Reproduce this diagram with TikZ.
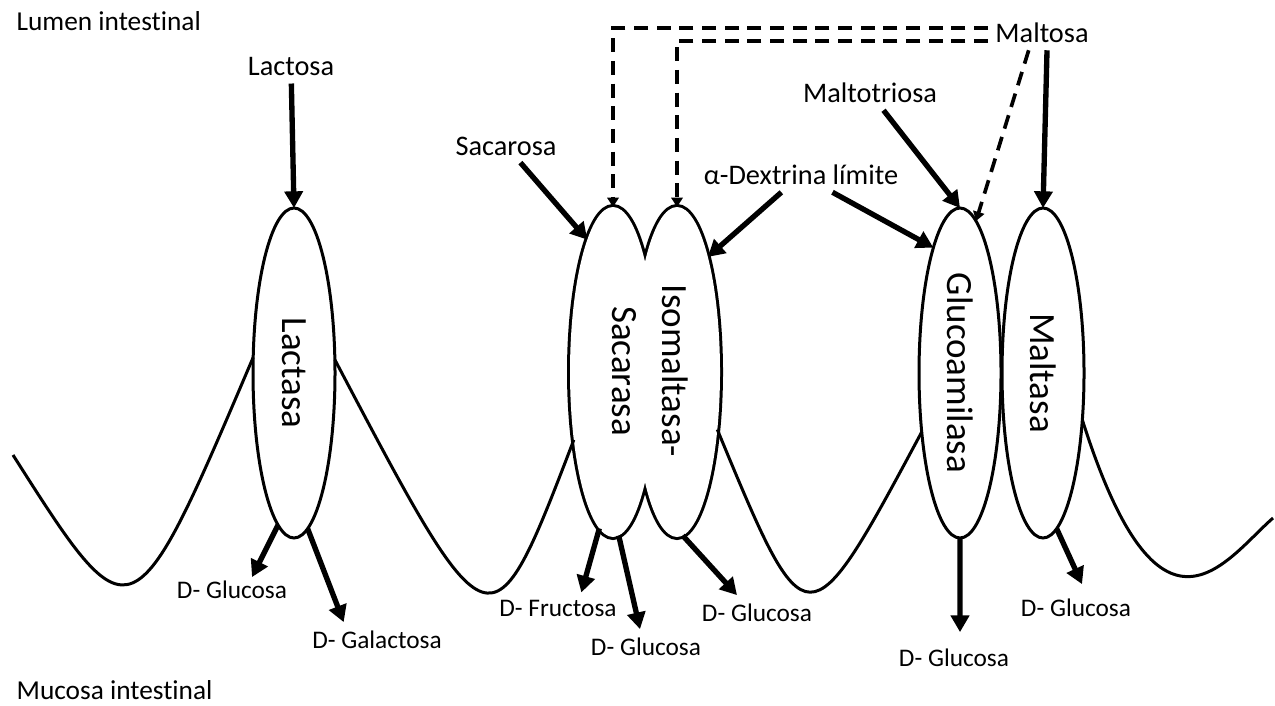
\documentclass[tikz,border=0pt]{standalone}
\usepackage{fontspec}
\setmainfont{Carlito}[Ligatures=NoCommon]
\usepackage{tikz}
\usetikzlibrary{shapes.geometric,arrows.meta}

\tikzset{
    enzima/.style={draw, ellipse, line width=0.9pt, minimum width=24.6pt, minimum height=99pt, inner sep=0pt, outer sep=0pt, font=\fontsize{11.1}{15}\selectfont},
    doble/.style={enzima, minimum width=25.8pt, line width=1.8pt},
    sustrato/.style={inner sep=2pt, font=\fontsize{8.5}{10}\selectfont},
    producto/.style={inner sep=1pt, font=\fontsize{7.6}{9}\selectfont},
    zona/.style={inner sep=0pt, anchor=west, font=\fontsize{8.2}{10}\selectfont},
    flecha/.style={line width=1.6pt, -{Triangle[length=5pt,width=5.4pt]}},
    discont/.style={line width=1.1pt, dash pattern=on 4.2pt off 2.6pt, -{Triangle[length=2.8pt,width=3.4pt]}},
    membrana/.style={line width=0.9pt}
}

\begin{document}
\begin{tikzpicture}[x=0.3pt, y=-0.3pt]
        \useasboundingbox (0,0) rectangle (1275,705);

        \node[zona] (lumen) at (16,21) {Lumen intestinal};
        \node[zona] (mucosa) at (16,690) {Mucosa intestinal};

        \node[enzima] (lactasa) at (294,373) {\rotatebox{-90}{Lactasa}};
        \node[doble] (sacarasa) at (613,372) {};
        \node[doble] (isomaltasa) at (677,372) {};
        \node[doble, draw=none, fill=white] (sacfondo) at (613,372) {};
        \node[doble, draw=none, fill=white] (isofondo) at (677,372) {};
        \node[rotate=-90, align=center, font=\fontsize{11.1}{15}\selectfont] (isosac) at (650,371) {Isomaltasa-\\Sacarasa};
        \node[enzima] (glucoamilasa) at (960,373) {\rotatebox{-90}{Glucoamilasa}};
        \node[enzima] (maltasa) at (1043,373) {\rotatebox{-90}{Maltasa}};

        \node[sustrato] (lactosa) at (291,67) {Lactosa};
        \node[sustrato] (sacarosa) at (506,146) {Sacarosa};
        \node[sustrato] (dextrina) at (801,175) {α-Dextrina límite};
        \node[sustrato] (maltotriosa) at (870,93) {Maltotriosa};
        \node[sustrato] (maltosa) at (1042,33) {Maltosa};

        \node[producto] (gluc1) at (232,590) {D- Glucosa};
        \node[producto] (galac) at (377,640) {D- Galactosa};
        \node[producto] (fruct) at (558,608) {D- Fructosa};
        \node[producto] (gluc2) at (646,647) {D- Glucosa};
        \node[producto] (gluc3) at (757,613) {D- Glucosa};
        \node[producto] (gluc4) at (954,658) {D- Glucosa};
        \node[producto] (gluc5) at (1076,608) {D- Glucosa};

        \coordinate (inicio) at (13,455);
        \coordinate (fin) at (1273,518);

        \draw[membrana] (inicio) .. controls (132,642) .. (lactasa.159);
        \draw[membrana] (lactasa.18) .. controls (491,656) .. (sacarasa.240);
        \draw[membrana] (isomaltasa.-55) .. controls (807,646) .. (glucoamilasa.237);
        \draw[membrana] (maltasa.-50) .. controls (1160,665) and (1225,560) .. (fin);

        \draw[flecha] (lactosa) -- (lactasa.north);
        \draw[flecha] (sacarosa) -- (sacarasa.101);
        \draw[flecha] (dextrina) -- (isomaltasa.75);
        \draw[flecha] (dextrina) -- (glucoamilasa.102);
        \draw[flecha] (maltotriosa) -- (glucoamilasa.north);
        \draw[flecha] ([xshift=1.5pt]maltosa.south) -- (maltasa.north);
        \draw[discont] ([xshift=-4pt]maltosa.south) -- (glucoamilasa.84);
        \draw[discont] ([yshift=1.5pt]maltosa.west) -| (sacarasa.north);
        \draw[discont] ([yshift=-2.4pt]maltosa.west) -| (isomaltasa.north);

        \draw[flecha] (lactasa.264) -- ([xshift=6pt]gluc1.north);
        \draw[flecha] (lactasa.-85) -- ([xshift=-10pt,yshift=1.5pt]galac.north);
        \draw[flecha] (sacarasa.-95) -- ([xshift=7pt,yshift=1pt]fruct.north);
        \draw[flecha] (sacarasa.-88) -- ([xshift=-1.8pt,yshift=1.5pt]gluc2.north);
        \draw[flecha] (isomaltasa.-88) -- ([xshift=-6pt,yshift=1.5pt]gluc3.north);
        \draw[flecha] (glucoamilasa.south) -- ([xshift=1.8pt,yshift=3.9pt]gluc4.north);
        \draw[flecha] (maltasa.-85) -- ([xshift=1.8pt,yshift=3.3pt]gluc5.north);
    \end{tikzpicture}
\end{document}
